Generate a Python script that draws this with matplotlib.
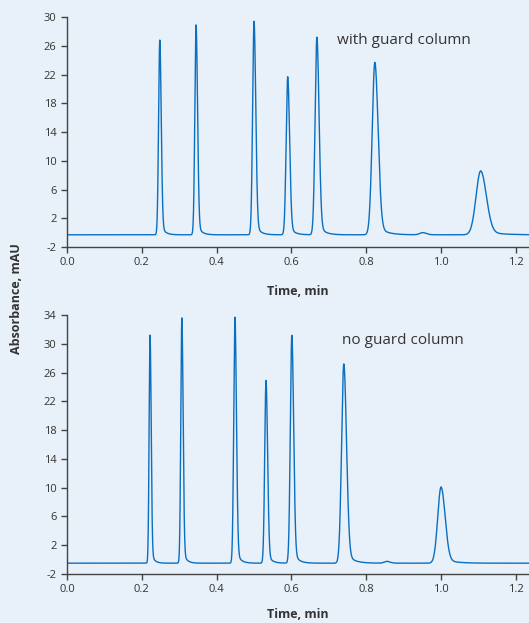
import numpy as np
import matplotlib.pyplot as plt

plt.rcParams['font.family'] = ['Open Sans', 'DejaVu Sans']

# peak table: retention time (min), height (mAU), width (sigma, min)
guard_rt = [0.248, 0.345, 0.500, 0.590, 0.668, 0.823, 0.951, 1.106]
guard_height = [27.1, 29.2, 29.7, 22.0, 27.5, 24.0, 0.3, 8.9]
guard_sigma = [0.0032, 0.0033, 0.0038, 0.0042, 0.0048, 0.0072, 0.008, 0.0125]
guard_base = -0.3

noguard_rt = [0.222, 0.307, 0.449, 0.532, 0.601, 0.740, 0.855, 1.000]
noguard_height = [31.7, 34.1, 34.2, 25.4, 31.7, 27.7, 0.25, 10.6]
noguard_sigma = [0.0025, 0.0028, 0.0033, 0.0035, 0.0040, 0.0060, 0.007, 0.0090]
noguard_base = -0.5

xticks = [0.0, 0.2, 0.4, 0.6, 0.8, 1.0, 1.2]
top_yticks = [-2, 2, 6, 10, 14, 18, 22, 26, 30]
bot_yticks = [-2, 2, 6, 10, 14, 18, 22, 26, 30, 34]

bg = '#e8f0f9'
line_col = '#0b6fc0'
txt = '#333333'


def trace(t, rts, heights, sigmas, base):
    # tailing peak: gaussian front, wider back with a small exponential tail
    y = np.full_like(t, base)
    for rt, h, s in zip(rts, heights, sigmas):
        dt = t - rt
        front = np.exp(-dt**2 / (2 * s**2))
        back = 0.93 * np.exp(-dt**2 / (2 * (1.2 * s)**2)) + 0.07 * np.exp(-np.clip(dt, 0, None) / (3.0 * s))
        y += h * np.where(dt < 0, front, back)
    return y


t = np.linspace(0, 1.24, 6000)

fig = plt.figure(figsize=(5.29, 6.23), dpi=100)
fig.patch.set_facecolor(bg)

ax1 = fig.add_axes([0.1267, 0.6035, 0.8733, 0.3692])
ax2 = fig.add_axes([0.1267, 0.0787, 0.8733, 0.4157])

panels = [
    (ax1, guard_rt, guard_height, guard_sigma, guard_base, top_yticks, (-2, 30),
     'with guard column', (0.722, 26.8), 12),
    (ax2, noguard_rt, noguard_height, noguard_sigma, noguard_base, bot_yticks, (-2, 34),
     'no guard column', (0.735, 30.4), 9),
]

for ax, rts, hs, ss, base, yt, ylim, label, pos, pad in panels:
    ax.set_facecolor(bg)
    ax.plot(t, trace(t, rts, hs, ss, base), color=line_col, lw=1.0)
    ax.set_xlim(0, 1.235)
    ax.set_ylim(*ylim)
    ax.set_xticks(xticks)
    ax.set_xticklabels([f'{v:.1f}' for v in xticks])
    ax.set_yticks(yt)
    ax.set_yticklabels([str(v) for v in yt])
    for s in ['top', 'right']:
        ax.spines[s].set_visible(False)
    for s in ['left', 'bottom']:
        ax.spines[s].set_color('#444444')
        ax.spines[s].set_linewidth(1.0)
    ax.tick_params(colors='#444444', labelcolor=txt, labelsize=8, length=4, width=1.0)
    ax.set_xlabel('Time, min', fontsize=9, fontweight='bold', color=txt, labelpad=pad)
    ax.text(pos[0], pos[1], label, fontsize=11, color=txt, va='center', ha='left')

fig.text(0.032, 0.52, 'Absorbance, mAU', rotation=90, fontsize=9, fontweight='bold',
         color=txt, ha='center', va='center')

fig.savefig('out.png', dpi=100, facecolor=bg)
